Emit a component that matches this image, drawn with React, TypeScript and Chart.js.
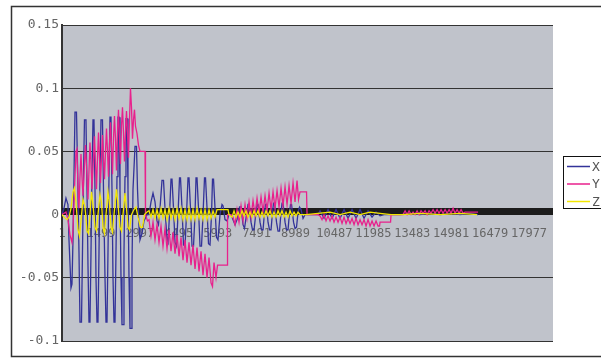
import { useEffect, useRef } from "react";
import { Chart, registerables } from "chart.js";

Chart.register(...registerables);

const seriesNames = ["X", "Y", "Z"];
const seriesColors = ["#333399", "#e8218c", "#f2e600"];
const xTickValues = [1, 1499, 2997, 4495, 5993, 7491, 8989, 10487, 11985, 13483, 14981, 16479, 17977];
const xAxisMin = 1;
const xAxisMax = 18900;
const yTickValues = [-0.1, -0.05, 0, 0.05, 0.1, 0.15];

// [sample index, value]
const seriesX: [number, number][] = [
  [1, 0], [77, 0.005], [154, 0.013], [231, 0.008], [270, -0.02], [347, -0.058], [385, -0.055], [424, -0.02],
  [462, 0.03], [501, 0.081], [558, 0.081], [597, 0.04], [655, -0.03], [693, -0.085], [751, -0.085], [789, -0.03],
  [828, 0.03], [866, 0.075], [924, 0.075], [963, 0.02], [1001, -0.04], [1040, -0.085], [1078, -0.085], [1117, -0.03],
  [1155, 0.03], [1194, 0.075], [1232, 0.075], [1271, 0.02], [1309, -0.05], [1348, -0.085], [1386, -0.085], [1425, -0.03],
  [1463, 0.03], [1502, 0.075], [1559, 0.075], [1598, 0.02], [1656, -0.05], [1694, -0.085], [1733, -0.085], [1771, -0.03],
  [1810, 0.03], [1848, 0.077], [1887, 0.077], [1925, 0.02], [1964, -0.05], [2002, -0.085], [2041, -0.085], [2079, -0.03],
  [2118, 0.03], [2156, 0.077], [2195, 0.077], [2233, 0.02], [2272, -0.05], [2310, -0.087], [2349, -0.087], [2387, -0.03],
  [2426, 0.03], [2464, 0.076], [2503, 0.076], [2541, 0.02], [2580, -0.05], [2618, -0.09], [2657, -0.09], [2695, -0.04],
  [2734, 0.02], [2811, 0.054], [2868, 0.054], [2907, 0.02], [2965, -0.01], [3003, -0.02], [3080, -0.015], [3157, -0.005],
  [3273, 0], [3350, 0], [3427, 0.01], [3504, 0.017], [3581, 0.01], [3658, -0.005], [3715, -0.008], [3773, 0.005],
  [3850, 0.027], [3908, 0.027], [3966, 0.005], [4043, -0.02], [4081, -0.022], [4139, 0], [4197, 0.028], [4235, 0.028],
  [4293, 0.005], [4351, -0.022], [4408, -0.025], [4466, 0], [4524, 0.029], [4562, 0.029], [4620, 0.005], [4678, -0.024],
  [4736, -0.025], [4793, 0], [4851, 0.029], [4890, 0.029], [4947, 0.005], [5005, -0.025], [5063, -0.025], [5121, 0],
  [5159, 0.029], [5198, 0.029], [5255, 0.005], [5313, -0.025], [5371, -0.025], [5429, 0], [5486, 0.029], [5525, 0.029],
  [5583, 0.005], [5640, -0.023], [5698, -0.024], [5756, 0], [5794, 0.028], [5833, 0.028], [5891, 0.005], [5948, -0.018],
  [6006, -0.02], [6083, 0], [6160, 0.008], [6199, 0.007], [6276, -0.004], [6353, -0.005], [6430, 0],
  [6507, 0], [6584, -0.004], [6661, -0.008], [6738, -0.004], [6834, 0.006], [6892, 0.006], [6969, -0.008], [7026, -0.011],
  [7103, 0], [7161, 0.008], [7200, 0.008], [7277, -0.006], [7334, -0.012], [7392, -0.012], [7469, 0.002], [7508, 0.008],
  [7546, 0.008], [7623, -0.006], [7681, -0.012], [7739, -0.012], [7796, 0.002], [7835, 0.008], [7873, 0.008], [7931, -0.006],
  [7989, -0.012], [8047, -0.012], [8104, 0.002], [8143, 0.009], [8181, 0.009], [8258, -0.006], [8316, -0.013], [8374, -0.013],
  [8432, 0.002], [8470, 0.009], [8509, 0.009], [8586, -0.006], [8643, -0.012], [8701, -0.012], [8759, 0.002], [8797, 0.008],
  [8836, 0.008], [8913, -0.006], [8971, -0.011], [9028, -0.01], [9086, 0.002], [9144, 0.006], [9202, 0.004], [9279, -0.003],
  [9356, 0], [9856, 0], [9933, 0.003], [10087, -0.003], [10241, 0.004], [10395, -0.003], [10549, 0.004], [10703, -0.003],
  [10857, 0.004], [11011, -0.003], [11165, 0.004], [11319, -0.003], [11473, 0.004], [11627, -0.003], [11781, 0.003],
  [11935, -0.002], [12089, 0.002], [12243, -0.001], [12397, 0], [13013, 0], [13398, 0.001], [13783, 0], [14168, 0.001],
  [14553, 0], [14938, 0.001], [15323, 0], [15708, 0.001], [16016, 0],
];

const seriesY: [number, number][] = [
  [1, 0], [154, 0.002], [231, -0.004], [308, -0.016], [385, -0.022], [424, -0.012], [481, 0.02], [539, 0.05],
  [578, 0.052], [616, 0.02], [655, 0.005], [693, 0.03], [732, 0.048], [770, 0.03], [809, 0.015], [866, 0.04],
  [905, 0.055], [963, 0.03], [1001, 0.012], [1040, 0.035], [1078, 0.057], [1117, 0.04], [1155, 0.02], [1213, 0.045],
  [1252, 0.062], [1290, 0.04], [1329, 0.02], [1367, 0.045], [1406, 0.065], [1444, 0.045], [1482, 0.025], [1521, 0.045],
  [1559, 0.063], [1598, 0.045], [1636, 0.028], [1675, 0.05], [1713, 0.068], [1752, 0.05], [1790, 0.03], [1829, 0.055],
  [1867, 0.073], [1906, 0.055], [1944, 0.032], [1983, 0.06], [2021, 0.078], [2060, 0.06], [2098, 0.035], [2137, 0.065],
  [2175, 0.083], [2214, 0.06], [2252, 0.04], [2291, 0.07], [2329, 0.085], [2368, 0.065], [2406, 0.042], [2445, 0.065],
  [2483, 0.082], [2522, 0.065], [2560, 0.045], [2599, 0.075], [2637, 0.1], [2676, 0.085], [2714, 0.06], [2753, 0.075],
  [2791, 0.083], [2830, 0.07], [2888, 0.064], [2945, 0.055], [3003, 0.05], [3196, 0.05], [3215, 0], [3292, -0.005],
  [3350, -0.004], [3427, -0.017], [3504, -0.006], [3581, -0.02], [3658, -0.008], [3735, -0.022], [3812, -0.009],
  [3889, -0.025], [3966, -0.011], [4043, -0.027], [4120, -0.012], [4197, -0.029], [4274, -0.014], [4351, -0.031],
  [4428, -0.016], [4505, -0.033], [4582, -0.018], [4659, -0.036], [4736, -0.02], [4813, -0.038], [4890, -0.022],
  [4967, -0.04], [5044, -0.024], [5121, -0.043], [5198, -0.026], [5275, -0.045], [5352, -0.029], [5429, -0.048],
  [5506, -0.031], [5583, -0.05], [5660, -0.034], [5737, -0.054], [5794, -0.057], [5852, -0.038], [5929, -0.05],
  [5987, -0.04], [6006, -0.04], [6353, -0.04], [6372, 0], [6507, 0],
  [6584, -0.002], [6661, -0.008], [6738, 0.004], [6815, -0.006], [6892, 0.007], [6969, -0.005], [7046, 0.008],
  [7123, -0.003], [7200, 0.01], [7277, -0.002], [7354, 0.011], [7431, 0], [7508, 0.013], [7585, 0.001], [7662, 0.014],
  [7739, 0.002], [7816, 0.015], [7893, 0.003], [7970, 0.017], [8047, 0.004], [8124, 0.018], [8201, 0.005], [8278, 0.019],
  [8355, 0.006], [8432, 0.021], [8509, 0.007], [8586, 0.022], [8663, 0.008], [8740, 0.023], [8817, 0.009], [8894, 0.025],
  [8971, 0.01], [9048, 0.027], [9105, 0.012], [9163, 0.018], [9413, 0.018], [9433, 0], [9856, 0],
  [9933, -0.001], [10010, -0.004], [10087, 0], [10164, -0.005], [10241, -0.001], [10318, -0.005], [10395, -0.001],
  [10472, -0.006], [10549, -0.002], [10626, -0.006], [10703, -0.002], [10780, -0.007], [10857, -0.002], [10934, -0.007],
  [11011, -0.003], [11088, -0.007], [11165, -0.003], [11242, -0.008], [11319, -0.003], [11396, -0.008], [11473, -0.004],
  [11550, -0.008], [11627, -0.004], [11704, -0.009], [11781, -0.004], [11858, -0.009], [11935, -0.005], [12012, -0.009],
  [12089, -0.005], [12166, -0.009], [12224, -0.009], [12243, -0.006], [12647, -0.006], [12667, 0], [13129, 0],
  [13206, 0.003], [13283, 0], [13360, 0.003], [13437, 0], [13514, 0.002], [13591, 0], [13668, 0.003], [13745, 0],
  [13822, 0.003], [13899, 0.001], [13976, 0.003], [14053, 0], [14130, 0.003], [14207, 0.001], [14284, 0.004],
  [14361, 0.001], [14438, 0.004], [14515, 0.001], [14592, 0.004], [14669, 0.001], [14746, 0.004], [14823, 0.001],
  [14900, 0.004], [14977, 0.001], [15054, 0.005], [15131, 0.001], [15208, 0.004], [15285, 0.001], [15362, 0.004],
  [15439, 0.001], [15516, 0.002], [15593, 0.002], [16016, 0.002],
];

const seriesZ: [number, number][] = [
  [1, 0], [77, -0.002], [193, -0.004], [270, -0.002], [347, 0.005], [424, 0.018], [481, 0.021], [539, 0.01],
  [616, -0.012], [674, -0.017], [732, -0.005], [809, 0.012], [886, 0.006], [963, -0.013], [1020, -0.015], [1078, 0],
  [1136, 0.018], [1194, 0.008], [1271, -0.01], [1328, -0.013], [1386, 0], [1463, 0.016], [1521, 0.01], [1579, -0.01],
  [1636, -0.015], [1694, 0], [1771, 0.018], [1829, 0.008], [1887, -0.01], [1944, -0.014], [2002, 0], [2098, 0.02],
  [2156, 0.008], [2233, -0.01], [2291, -0.013], [2349, 0], [2426, 0.017], [2483, 0.005], [2541, -0.01], [2599, -0.012],
  [2676, 0], [2772, 0.004], [2849, 0.006], [2926, -0.002], [3022, -0.01], [3099, -0.01], [3176, 0], [3273, 0.002],
  [3350, 0.003], [3427, -0.002], [3504, 0.004], [3581, -0.003], [3658, 0.004], [3735, -0.003], [3812, 0.005],
  [3889, -0.003], [3966, 0.004], [4043, -0.004], [4120, 0.005], [4197, -0.003], [4274, 0.004], [4351, -0.004],
  [4428, 0.005], [4505, -0.003], [4582, 0.005], [4659, -0.004], [4736, 0.004], [4813, -0.004], [4890, 0.005],
  [4967, -0.004], [5044, 0.004], [5121, -0.004], [5198, 0.005], [5275, -0.003], [5352, 0.004], [5429, -0.004],
  [5506, 0.004], [5583, -0.004], [5660, 0.004], [5737, -0.003], [5814, 0.003], [5891, -0.002], [5968, 0.004],
  [6391, 0.004], [6430, 0],
  [6545, -0.002], [6622, 0.003], [6699, -0.002], [6776, 0.002], [6853, -0.002], [6930, 0.003], [7007, -0.001],
  [7084, 0.003], [7161, -0.002], [7238, 0.002], [7315, -0.002], [7392, 0.003], [7469, -0.001], [7546, 0.003],
  [7623, -0.002], [7700, 0.002], [7777, -0.002], [7854, 0.003], [7931, -0.001], [8008, 0.003], [8085, -0.002],
  [8162, 0.002], [8239, -0.002], [8316, 0.003], [8393, -0.001], [8470, 0.003], [8547, -0.002], [8624, 0.002],
  [8701, -0.002], [8778, 0.003], [8855, -0.001], [8932, 0.002], [9009, -0.001], [9086, 0.002], [9163, 0], [9394, 0],
  [9856, 0.001], [10318, 0.002], [10703, 0], [11088, 0.002], [11473, 0], [11858, 0.002], [12243, 0.001], [12667, 0],
  [13129, 0], [13783, 0.001], [14553, 0], [15323, 0.001], [15978, 0],
];

const allSeries = [seriesX, seriesY, seriesZ];

const MONO = '"DejaVu Sans Mono", "Liberation Mono", monospace';

const decorPlugin = {
  id: "decor",
  beforeDraw(chart: any) {
    const { ctx, chartArea } = chart;
    ctx.save();
    ctx.fillStyle = "#c0c3cb";
    ctx.fillRect(chartArea.left, chartArea.top, chartArea.right - chartArea.left, chartArea.bottom - chartArea.top);
    ctx.restore();
  },
  beforeDatasetsDraw(chart: any) {
    const { ctx, chartArea, scales } = chart;
    const y0 = scales.y.getPixelForValue(0);
    ctx.save();
    ctx.fillStyle = "#1c1c1c";
    ctx.fillRect(chartArea.left, Math.round(y0) - 7, chartArea.right - chartArea.left, 7);
    ctx.restore();
  },
  afterDraw(chart: any) {
    const { ctx } = chart;
    ctx.save();
    // outer frame
    ctx.strokeStyle = "#333";
    ctx.lineWidth = 1.5;
    ctx.strokeRect(11.5, 6.5, 640, 350);
    // legend
    ctx.lineWidth = 1;
    ctx.strokeStyle = "#111";
    ctx.fillStyle = "#fff";
    ctx.fillRect(563.5, 156.5, 60, 52);
    ctx.strokeRect(563.5, 156.5, 60, 52);
    ctx.font = `13px ${MONO}`;
    ctx.textBaseline = "middle";
    chart.data.datasets.forEach((ds: any, i: number) => {
      const y = 166.5 + i * 17.5;
      ctx.strokeStyle = ds.borderColor;
      ctx.lineWidth = 1.5;
      ctx.beginPath();
      ctx.moveTo(567, y);
      ctx.lineTo(590, y);
      ctx.stroke();
      ctx.fillStyle = "#555";
      ctx.fillText(ds.label, 592, y + 1);
    });
    ctx.restore();
  },
};

export default function App() {
  const canvasRef = useRef<HTMLCanvasElement | null>(null);

  useEffect(() => {
    if (!canvasRef.current) return;
    const orders = [2, 1, 0];
    const chart = new Chart(canvasRef.current, {
      type: "line",
      data: {
        datasets: allSeries.map((s, i) => ({
          label: seriesNames[i],
          data: s.map(([x, y]) => ({ x, y })),
          borderColor: seriesColors[i],
          borderWidth: 1.3,
          pointRadius: 0,
          tension: 0,
          fill: false,
          order: orders[i],
        })),
      },
      options: {
        animation: false,
        responsive: true,
        maintainAspectRatio: false,
        layout: { padding: { left: 0, top: 25, right: 48, bottom: 17 } },
        plugins: { legend: { display: false }, tooltip: { enabled: false } },
        scales: {
          x: {
            type: "linear",
            min: xAxisMin,
            max: xAxisMax,
            position: { y: 0 } as any,
            afterBuildTicks: (scale: any) => {
              scale.ticks = xTickValues.map((v) => ({ value: v }));
            },
            grid: { display: false, drawTicks: true, tickLength: 6 },
            border: { display: false },
            ticks: {
              autoSkip: false,
              maxRotation: 0,
              minRotation: 0,
              padding: 6,
              color: "#666",
              font: { family: MONO, size: 12 },
              callback: (v: any) => String(v),
            },
          },
          y: {
            type: "linear",
            min: -0.1,
            max: 0.15,
            afterBuildTicks: (scale: any) => {
              scale.ticks = yTickValues.map((v) => ({ value: v }));
            },
            afterFit: (scale: any) => {
              scale.width = 62;
            },
            grid: { color: "#333", lineWidth: 1, drawTicks: false },
            border: { display: true, color: "#333", width: 2 },
            ticks: {
              padding: 3,
              color: "#666",
              font: { family: MONO, size: 13 },
              callback: (v: any) => String(parseFloat(Number(v).toFixed(2))),
            },
          },
        },
      },
      plugins: [decorPlugin],
    });
    return () => chart.destroy();
  }, []);

  return (
    <div style={{ position: "fixed", left: 0, top: 0, width: 601, height: 358, background: "#fff" }}>
      <canvas ref={canvasRef} />
    </div>
  );
}
